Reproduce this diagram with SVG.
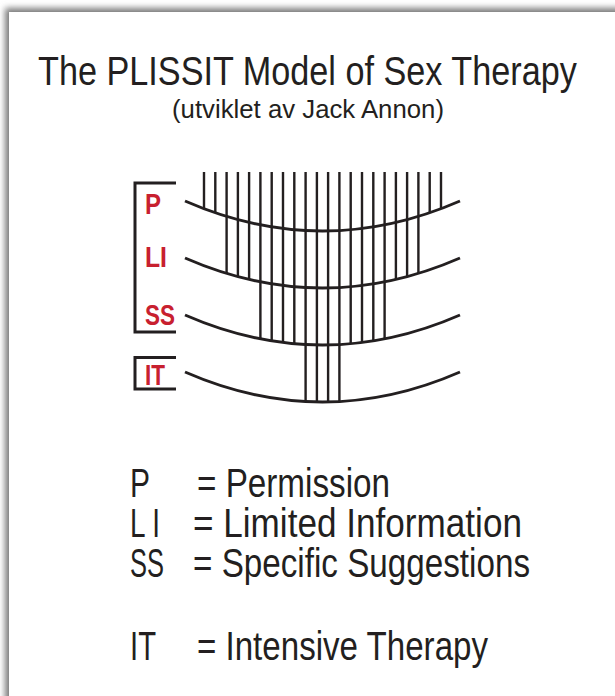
<svg xmlns="http://www.w3.org/2000/svg" width="615" height="696" viewBox="0 0 615 696">
  <defs>
    <filter id="shadow" x="-0.1" y="-0.1" width="1.2" height="1.2">
      <feGaussianBlur stdDeviation="3"/>
    </filter>
    <style>
      .title { font-family: "Liberation Sans", Arial, sans-serif; fill: #231f20; }
      .lab { font-family: "Liberation Sans", Arial, sans-serif; font-weight: bold; fill: #c8202f; font-size: 29px; }
      .vl { stroke: #231f20; stroke-width: 2.4; fill: none; }
      .cv { stroke: #231f20; stroke-width: 3; fill: none; }
      .br { stroke: #231f20; stroke-width: 3; fill: none; }
      .leg { font-family: "Liberation Sans", Arial, sans-serif; fill: #231f20; font-size: 40px; }
    </style>
  </defs>

  <rect x="0" y="0" width="615" height="696" fill="#ffffff"/>
  <rect x="5" y="8" width="640" height="720" fill="#7a7a7a" filter="url(#shadow)"/>
  <rect x="9" y="12" width="620" height="700" fill="#ffffff"/>

  <g id="title">
    <text class="title" transform="translate(38,85) scale(0.835,1)" x="0" y="0" font-size="41">The PLISSIT Model of Sex Therapy</text>
    <text class="title" x="172" y="118" font-size="26" textLength="272" lengthAdjust="spacingAndGlyphs">(utviklet av Jack Annon)</text>
  </g>

  <g id="connectors">
    <path class="vl" d="M204,172V208.7 M215.3,172V212.8 M429.7,172V212.8 M441,172V208.7"/>
    <path class="vl" d="M226.6,172V273.4 M237.9,172V276.6 M249.1,172V279.4 M395.9,172V279.4 M407.1,172V276.6 M418.4,172V273.4"/>
    <path class="vl" d="M260.4,172V338.9 M271.7,172V340.9 M283,172V342.5 M294.3,172V343.7 M350.7,172V343.7 M362,172V342.5 M373.3,172V340.9 M384.6,172V338.9"/>
    <path class="vl" d="M305.6,172V401.5 M316.9,172V402 M328.1,172V402 M339.4,172V401.5"/>
    <path class="cv" d="M185,201 Q322.5,261 460,201"/>
    <path class="cv" d="M185,258 Q322.5,318 460,258"/>
    <path class="cv" d="M185,315 Q322.5,375 460,315"/>
    <path class="cv" d="M185,372 Q322.5,432 460,372"/>
    <path class="br" d="M176,183 H135 V332 H176"/>
    <path class="br" d="M176,357.5 H135 V389 H176"/>
  </g>

  <g id="node-P"><text class="lab" x="145" y="214" textLength="16" lengthAdjust="spacingAndGlyphs">P</text></g>
  <g id="node-LI"><text class="lab" x="145" y="267" textLength="22" lengthAdjust="spacingAndGlyphs">LI</text></g>
  <g id="node-SS"><text class="lab" x="145" y="325" textLength="30" lengthAdjust="spacingAndGlyphs">SS</text></g>
  <g id="node-IT"><text class="lab" x="145" y="385" textLength="20" lengthAdjust="spacingAndGlyphs">IT</text></g>

  <g id="legend">
    <text class="leg" x="130" y="497" textLength="20" lengthAdjust="spacingAndGlyphs">P</text>
    <text class="leg" x="197" y="497" textLength="193" lengthAdjust="spacingAndGlyphs">= Permission</text>
    <text class="leg" x="130" y="537" textLength="30" lengthAdjust="spacingAndGlyphs">L I</text>
    <text class="leg" x="193" y="537" textLength="329" lengthAdjust="spacingAndGlyphs">= Limited Information</text>
    <text class="leg" x="130" y="577" textLength="34" lengthAdjust="spacingAndGlyphs">SS</text>
    <text class="leg" x="193" y="577" textLength="337" lengthAdjust="spacingAndGlyphs">= Specific Suggestions</text>
    <text class="leg" x="130" y="660" textLength="26" lengthAdjust="spacingAndGlyphs">IT</text>
    <text class="leg" x="197" y="660" textLength="291" lengthAdjust="spacingAndGlyphs">= Intensive Therapy</text>
  </g>
</svg>
